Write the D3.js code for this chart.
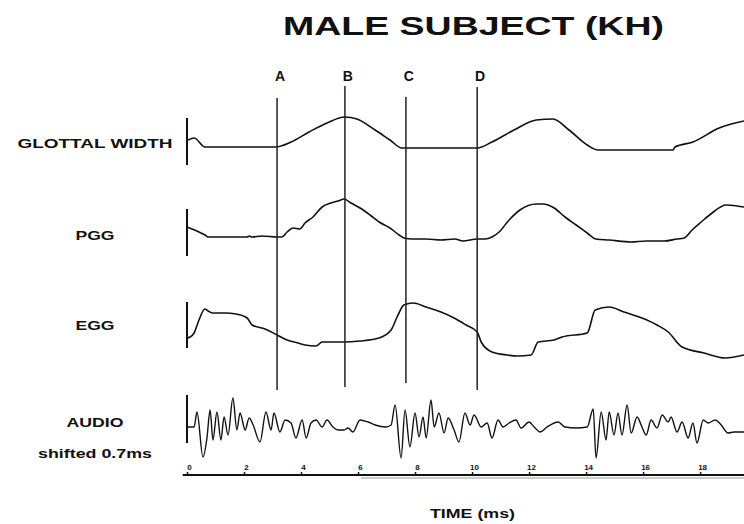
<!DOCTYPE html>
<html>
<head>
<meta charset="utf-8">
<script src="https://cdn.jsdelivr.net/npm/d3@7"></script>
<style>
  body { margin: 0; background: #fff; }
  svg { display: block; }
  text { font-family: "Liberation Sans", Arial, sans-serif; font-weight: bold; fill: #111; }
</style>
</head>
<body>
<div id="chart"></div>
<script>
// time in ms, amplitude in arbitrary units
const glottalWidth = [
  [0.04, 10], [0.25, 12], [0.63, 3], [3.12, 3], [3.65, 8], [4.28, 18], [4.91, 27],
  [5.54, 33], [5.96, 31], [6.60, 20], [7.12, 10], [7.54, 2], [10.18, 2], [10.70, 8],
  [11.47, 20], [12.25, 30], [12.84, 31], [13.40, 20], [14.04, 5], [14.42, 0],
  [17.05, 0], [17.12, 3], [17.75, 8], [18.67, 22], [19.54, 29]
]

const pgg = [
  [0, 15], [0.18, 13], [0.49, 9], [0.63, 7], [0.74, 5], [2.11, 5], [2.18, 6], [2.28, 5],
  [2.63, 6], [3.16, 5], [3.33, 5], [3.51, 10], [3.72, 14], [3.96, 13], [4.14, 19],
  [4.42, 25], [4.74, 35], [5.05, 39], [5.30, 41], [5.51, 43], [5.75, 39], [6.07, 34],
  [6.42, 27], [6.74, 20], [7.12, 14], [7.44, 7], [7.61, 4], [7.89, 3], [8.39, 3],
  [8.91, 2], [9.40, 3], [9.68, 1], [10.18, 3], [10.46, 3], [10.70, 5], [10.95, 10],
  [11.30, 22], [11.68, 32], [12.25, 38], [12.49, 38], [12.88, 34], [13.26, 25],
  [13.65, 17], [14.04, 9], [14.35, 3], [14.81, 2], [15.58, 0], [16.11, 1], [16.74, 1],
  [17.19, 3], [17.44, 4], [17.72, 12], [18.04, 20], [18.42, 29], [18.91, 37],
  [19.30, 36], [19.54, 35]
]

const egg = [
  [0, 20], [0.11, 21], [0.25, 25], [0.42, 38], [0.63, 49], [0.74, 47], [0.88, 45],
  [1.33, 45], [1.72, 44], [2.11, 40], [2.28, 33], [2.74, 29], [3.16, 23], [3.51, 18],
  [3.89, 15], [4.14, 13], [4.53, 12], [4.74, 16], [5.19, 16], [5.51, 16], [6.07, 17],
  [6.74, 20], [7.16, 28], [7.37, 41], [7.61, 53], [7.93, 55], [8.39, 51], [8.91, 46],
  [9.37, 40], [9.79, 33], [10.18, 26], [10.32, 16], [10.70, 6], [11.23, 3], [11.61, 2],
  [12.07, 3], [12.32, 16], [12.88, 18], [13.16, 21], [14.04, 25], [14.32, 48],
  [14.81, 51], [15.33, 46], [15.96, 40], [16.49, 33], [16.88, 26], [17.37, 11],
  [18.14, 5], [18.88, 0], [19.54, 3]
]

const audio = [
  [0, 0], [0.25, 0], [0.35, 15], [0.56, -30], [0.70, -11], [0.81, 17], [0.91, -13],
  [1.05, 15], [1.19, -13], [1.30, 10], [1.44, -8], [1.61, 29], [1.75, -3], [1.86, 14],
  [2.04, -3], [2.18, 9], [2.32, 2], [2.56, -15], [2.77, 15], [2.95, -3], [3.05, 14],
  [3.26, -5], [3.44, 7], [3.65, 4], [3.82, -11], [4.04, 7], [4.18, -11], [4.35, 4],
  [4.53, 7], [4.74, 0], [4.91, 7], [5.12, 0], [5.30, -3], [5.51, -3], [5.65, -1],
  [5.82, -5], [6.07, 7], [6.35, 5], [6.60, 2], [6.98, 0], [7.16, 2], [7.30, 22],
  [7.51, -31], [7.65, 17], [7.82, -20], [8.00, 14], [8.14, -10], [8.28, 10], [8.39, -11],
  [8.56, 27], [8.67, 0], [8.84, 14], [9.02, -6], [9.16, 9], [9.37, -3], [9.54, -15],
  [9.75, 14], [9.93, 2], [10.07, 12], [10.32, 0], [10.53, 4], [10.70, -11], [10.91, 7],
  [11.09, 0], [11.30, 4], [11.54, 7], [11.72, -1], [12.00, 5], [12.18, 0], [12.39, -5],
  [12.63, 0], [13.02, 5], [13.26, 0], [13.65, -1], [14.04, 0], [14.25, 18], [14.35, -31],
  [14.53, 15], [14.70, -13], [14.81, 15], [14.98, -8], [15.12, 14], [15.26, -8],
  [15.44, 22], [15.58, -6], [15.79, 10], [15.96, 0], [16.11, -8], [16.28, 7], [16.49, -1],
  [16.67, 12], [16.88, 5], [16.98, 10], [17.19, -5], [17.37, 5], [17.58, -11], [17.75, 4],
  [17.89, -16], [18.11, 7], [18.28, 4], [18.53, 7], [18.74, 2], [18.98, -6], [19.19, -5],
  [19.54, -5]
]

const markerNames = ['A', 'B', 'C', 'D']
const markerTimes = [3.16, 5.54, 7.68, 10.18]

const timeTicks = [0, 2, 4, 6, 8, 10, 12, 14, 16, 18]

const traceNames = ['GLOTTAL WIDTH', 'PGG', 'EGG', 'AUDIO']

// layout
const width = 744, height = 524

// each trace gets its own band: baseline pixel, bar span around it
const bands = [
  { data: glottalWidth, base: 150, bar: [118, 165], label: 143, labelW: 155, sw: 1.6 },
  { data: pgg, base: 242, bar: [209, 256], label: 235, labelW: 39, sw: 1.6 },
  { data: egg, base: 358, bar: [302, 348], label: 325, labelW: 39, sw: 1.6 },
  { data: audio, base: 427, bar: [395, 443], label: 422, labelW: 57, sw: 1.4 }
]
const markerSpans = [[98, 390], [86, 387], [97, 383], [87, 390]]

const svg = d3.select('#chart')
  .append('svg')
  .attr('width', width)
  .attr('height', height)

const x = d3.scaleLinear()
  .domain([0, 19.54])
  .range([187, 744])

// title
svg.append('text')
  .attr('x', 283)
  .attr('y', 35)
  .attr('font-size', 26)
  .attr('textLength', 381)
  .attr('lengthAdjust', 'spacingAndGlyphs')
  .text('MALE SUBJECT (KH)')

// traces
bands.forEach((b, i) => {
  let y = d3.scaleLinear().domain([0, 40]).range([b.base, b.base - 40])

  let line = d3.line()
    .x(d => x(d[0]))
    .y(d => y(d[1]))
    .curve(d3.curveMonotoneX)

  svg.append('path')
    .datum(b.data)
    .attr('fill', 'none')
    .attr('stroke', '#111')
    .attr('stroke-width', b.sw)
    .attr('stroke-linejoin', 'round')
    .attr('d', line)

  // start-of-record bar
  svg.append('line')
    .attr('x1', x(0)).attr('x2', x(0))
    .attr('y1', b.bar[0]).attr('y2', b.bar[1])
    .attr('stroke', '#111')
    .attr('stroke-width', 2)

  svg.append('text')
    .attr('x', 95 - b.labelW / 2)
    .attr('y', b.label + 5)
    .attr('font-size', 13)
    .attr('textLength', b.labelW)
    .attr('lengthAdjust', 'spacingAndGlyphs')
    .text(traceNames[i])
})

svg.append('text')
  .attr('x', 38)
  .attr('y', 458)
  .attr('font-size', 13)
  .attr('textLength', 114)
  .attr('lengthAdjust', 'spacingAndGlyphs')
  .text('shifted 0.7ms')

// event markers
let markers = svg.selectAll('g.marker')
  .data(markerTimes)
  .enter()
  .append('g')
  .attr('class', 'marker')

markers.append('line')
  .attr('x1', d => x(d)).attr('x2', d => x(d))
  .attr('y1', (d, i) => markerSpans[i][0])
  .attr('y2', (d, i) => markerSpans[i][1])
  .attr('stroke', '#222')
  .attr('stroke-width', 1.5)

markers.append('text')
  .attr('x', d => x(d) + 3)
  .attr('y', 81)
  .attr('text-anchor', 'middle')
  .attr('font-size', 14)
  .text((d, i) => markerNames[i])

// time axis
let axis = svg.append('g')
  .attr('transform', 'translate(0,475)')
  .call(d3.axisTop(x).tickValues(timeTicks).tickSize(3).tickPadding(2).tickSizeOuter(0))

axis.select('.domain').remove()
axis.selectAll('.tick line').attr('stroke', '#111').attr('stroke-width', 1.5)
axis.selectAll('.tick text')
  .attr('font-size', 8)
  .attr('font-family', '"Liberation Sans", Arial, sans-serif')
  .attr('font-weight', 'bold')
  .attr('fill', '#111')
  .attr('dx', 2)

svg.append('line')
  .attr('x1', x(-0.15)).attr('x2', x(19.54))
  .attr('y1', 475).attr('y2', 475)
  .attr('stroke', '#111')
  .attr('stroke-width', 2)

svg.append('line')
  .attr('x1', x(6.1)).attr('x2', x(19.54))
  .attr('y1', 478).attr('y2', 478)
  .attr('stroke', '#999')
  .attr('stroke-width', 1.2)

svg.append('text')
  .attr('x', 430)
  .attr('y', 518)
  .attr('font-size', 12)
  .attr('textLength', 85)
  .attr('lengthAdjust', 'spacingAndGlyphs')
  .text('TIME (ms)')
</script>
</body>
</html>
